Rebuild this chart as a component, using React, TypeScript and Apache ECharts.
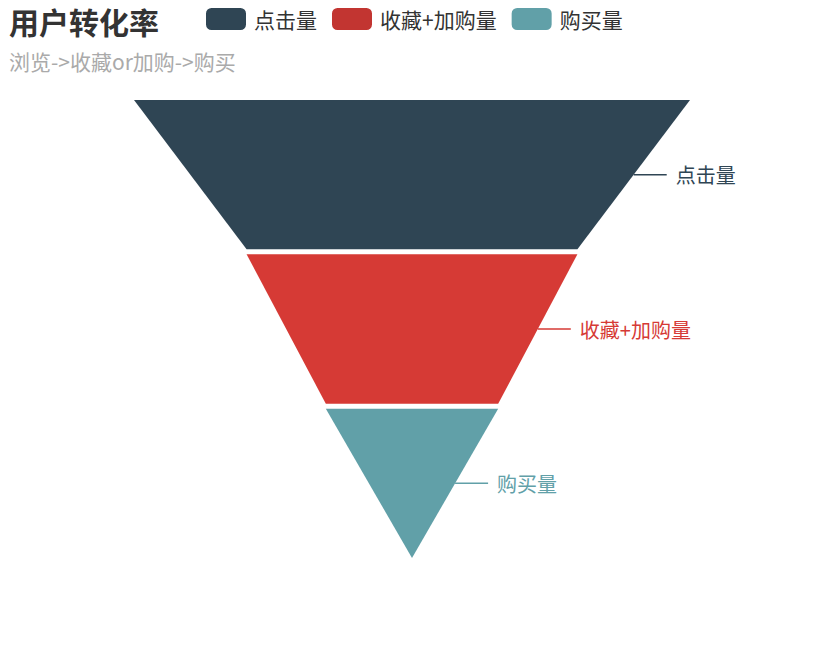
import React, { useEffect, useRef } from "react";
import * as echarts from "echarts";

const titleText = "用户转化率";
const subText = "浏览->收藏or加购->购买";
const categories = ["点击量", "收藏+加购量", "购买量"];
const values = [100, 59.5, 31];
const segColors = ["#2f4554", "#d63a35", "#61a0a8"];
const legendColors = ["#2f4554", "#c23531", "#61a0a8"];

export default function App() {
  const ref = useRef<HTMLDivElement>(null);
  useEffect(() => {
    const chart = echarts.init(ref.current!, null, { renderer: "svg" });
    const font = "'Microsoft YaHei', 'Noto Sans CJK SC', sans-serif";
    chart.setOption({
      animation: false,
      textStyle: { fontFamily: font },
      title: {
        text: titleText,
        subtext: subText,
        left: 4,
        top: 1,
        itemGap: 15,
        textStyle: { fontSize: 30, fontWeight: "bold", color: "#333", fontFamily: font },
        subtextStyle: { fontSize: 21, color: "#aaa", fontFamily: font },
      },
      legend: {
        left: 201,
        top: 3,
        itemWidth: 40,
        itemHeight: 22,
        itemGap: 15,
        icon: "roundRect",
        textStyle: { fontSize: 21, color: "#333", fontFamily: font, padding: [0, 0, 0, 3] },
        data: categories.map((c, i) => ({ name: c, itemStyle: { color: legendColors[i] } })),
      },
      series: [
        {
          type: "funnel",
          left: 134,
          top: 100,
          width: 556,
          height: 458,
          min: 0,
          max: 100,
          minSize: "0%",
          maxSize: "100%",
          sort: "descending",
          gap: 5,
          label: {
            show: true,
            position: "right",
            fontSize: 20,
            fontFamily: font,
            padding: [0, 0, 4, 4],
          },
          labelLine: { length: 33, lineStyle: { width: 1.5 } },
          itemStyle: { borderWidth: 0 },
          data: categories.map((c, i) => ({
            name: c,
            value: values[i],
            itemStyle: { color: segColors[i] },
            label: { color: segColors[i] },
          })),
        },
      ],
    });
    return () => chart.dispose();
  }, []);
  return (
    <div
      ref={ref}
      style={{ position: "absolute", left: 0, top: 0, width: 825, height: 660 }}
    />
  );
}
